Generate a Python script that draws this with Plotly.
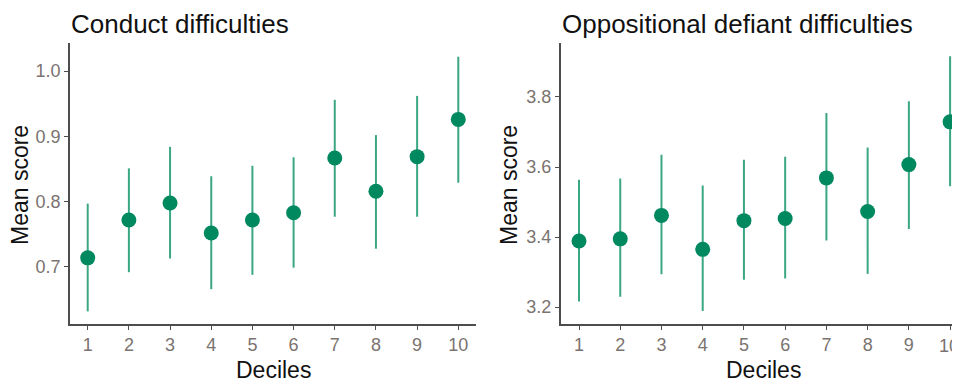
import plotly.graph_objects as go

deciles = [1, 2, 3, 4, 5, 6, 7, 8, 9, 10]

conduct_mean = [0.714, 0.772, 0.798, 0.752, 0.772, 0.783, 0.867, 0.816, 0.869, 0.926]
conduct_low = [0.632, 0.692, 0.713, 0.666, 0.688, 0.699, 0.777, 0.728, 0.777, 0.829]
conduct_high = [0.797, 0.851, 0.884, 0.839, 0.855, 0.868, 0.956, 0.902, 0.962, 1.022]

odd_mean = [3.389, 3.395, 3.462, 3.365, 3.447, 3.453, 3.569, 3.473, 3.607, 3.729]
odd_low = [3.216, 3.230, 3.294, 3.189, 3.278, 3.282, 3.390, 3.295, 3.423, 3.545]
odd_high = [3.564, 3.567, 3.635, 3.547, 3.621, 3.629, 3.754, 3.656, 3.788, 3.916]

titles = ["Conduct difficulties", "Oppositional defiant difficulties"]

PT = "#00885f"
LN = "#3ba684"
TICKC = "#7a7370"
OFF = 8  # page body margin
W, H = 960 - OFF, 383 - OFF
FONT = "Liberation Sans, Arial, sans-serif"


def px(x):
    return (x - OFF) / W


def py(y):
    return 1 - (y - OFF) / H


fig = go.Figure()


def add_panel(mean, low, high, xa, ya):
    fig.add_trace(go.Scatter(
        x=deciles, y=mean, mode="markers",
        marker=dict(color=PT, size=15, line=dict(width=0)),
        error_y=dict(type="data", symmetric=False,
                     array=[h - m for h, m in zip(high, mean)],
                     arrayminus=[m - l for m, l in zip(mean, low)],
                     width=0, thickness=2, color=LN),
        xaxis=xa, yaxis=ya, showlegend=False, hoverinfo="skip"))


add_panel(conduct_mean, conduct_low, conduct_high, "x", "y")
add_panel(odd_mean, odd_low, odd_high, "x2", "y2")

ydom = [py(324), py(43)]
axis_common = dict(showline=True, linecolor="#4d4d4d", linewidth=1.5,
                   ticks="outside", ticklen=4, tickwidth=1.2, tickcolor="#4d4d4d",
                   showgrid=False, zeroline=False, automargin=False,
                   tickfont=dict(family=FONT, size=18, color=TICKC))

fig.update_layout(
    width=W, height=H, margin=dict(l=0, r=0, t=0, b=0),
    plot_bgcolor="white", paper_bgcolor="white",
    xaxis=dict(domain=[px(70), px(476)], range=[0.57, 10.43],
               tickvals=deciles, ticktext=[str(d) for d in deciles], anchor="y", **axis_common),
    yaxis=dict(domain=ydom, range=[0.6127, 1.043], tickvals=[0.7, 0.8, 0.9, 1.0],
               ticktext=["0.7", "0.8", "0.9", "1.0"], anchor="x", **axis_common),
    xaxis2=dict(domain=[px(560.7), 1.0], range=[0.556, 10.24],
                tickvals=deciles, ticktext=[str(d) for d in deciles], anchor="y2", **axis_common),
    yaxis2=dict(domain=ydom, range=[3.152, 3.954], tickvals=[3.2, 3.4, 3.6, 3.8],
                ticktext=["3.2", "3.4", "3.6", "3.8"], anchor="x2", **axis_common),
)

ann = []
for tx, x0 in zip(titles, [70, 560.7]):
    ann.append(dict(text=tx, x=px(x0), y=1.0, xref="paper", yref="paper",
                    xanchor="left", yanchor="top", showarrow=False, borderpad=0,
                    font=dict(family=FONT, size=26, color="#111")))
for cx in [20, 509]:
    ann.append(dict(text="Mean score", x=px(cx), y=py(185), xref="paper", yref="paper",
                    xanchor="center", yanchor="middle", textangle=-90, showarrow=False,
                    font=dict(family=FONT, size=23, color="#111")))
for cx in [273.3, 763.7]:
    ann.append(dict(text="Deciles", x=px(cx), y=py(370), xref="paper", yref="paper",
                    xanchor="center", yanchor="middle", showarrow=False,
                    font=dict(family=FONT, size=23, color="#111")))
# last tick label of the right panel, which sits on the page edge
ann.append(dict(text=str(deciles[-1]), x=1.0, xref="paper", y=py(346), yref="paper",
                xanchor="right", yanchor="middle", showarrow=False, borderpad=0,
                font=dict(family=FONT, size=18, color=TICKC)))
fig.update_layout(annotations=ann)

fig.write_html("out.html")
